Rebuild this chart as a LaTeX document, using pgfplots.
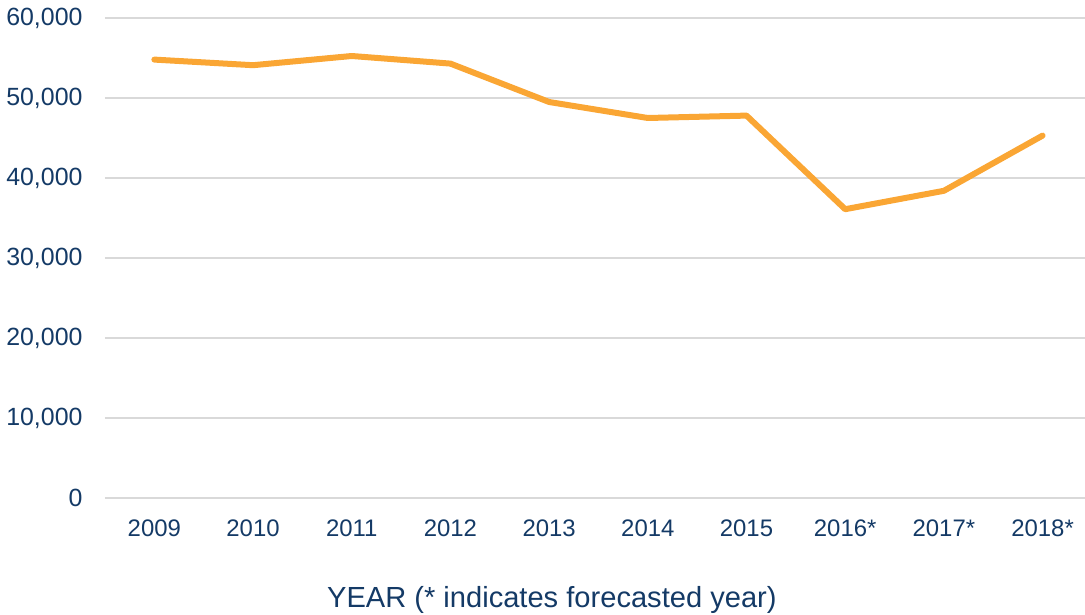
\documentclass[border=0pt]{standalone}
\usepackage{pgfplots}
\pgfplotsset{compat=1.18}
\usepackage{fontspec}
\setmainfont{Liberation Sans}
\definecolor{linec}{RGB}{250,166,52}
\definecolor{textc}{RGB}{20,58,102}
\definecolor{gridc}{RGB}{217,217,217}
\begin{document}
\begin{tikzpicture}
\begin{axis}[
  scale only axis,
  width=980bp, height=480bp,
  xmin=-0.5, xmax=9.43,
  ymin=0, ymax=60000,
  xtick={0,1,2,3,4,5,6,7,8,9},
  xticklabels={2009,2010,2011,2012,2013,2014,2015,2016*,2017*,2018*},
  ytick={0,10000,20000,30000,40000,50000,60000},
  scaled y ticks=false,
  /pgf/number format/.cd, 1000 sep={,}, assume math mode=true,
  /pgfplots/.cd,
  axis line style={draw=none},
  major tick length=0pt,
  ymajorgrids,
  grid style={gridc, line width=1.5bp},
  tick label style={font=\fontsize{24}{28}\selectfont, text=textc},
  yticklabel style={anchor=east, xshift=-19bp, font=\fontsize{25}{29}\selectfont},
  xticklabel style={anchor=base, yshift=-38bp},
  xlabel={YEAR (* indicates forecasted year)},
  xlabel style={font=\fontsize{29.2}{34}\selectfont, text=textc, at={(axis description cs:0.456,0)}, anchor=base, yshift=-109bp},
  clip=false,
]
\addplot[linec, line width=6bp, line join=round, line cap=round] coordinates {
(0,54800) (1,54100) (2,55250) (3,54300) (4,49500) (5,47500) (6,47800) (7,36100) (8,38400) (9,45300)
};
\end{axis}
\pgfresetboundingbox
\useasboundingbox (-105bp,-117bp) rectangle (980bp,498bp);
\end{tikzpicture}
\end{document}
